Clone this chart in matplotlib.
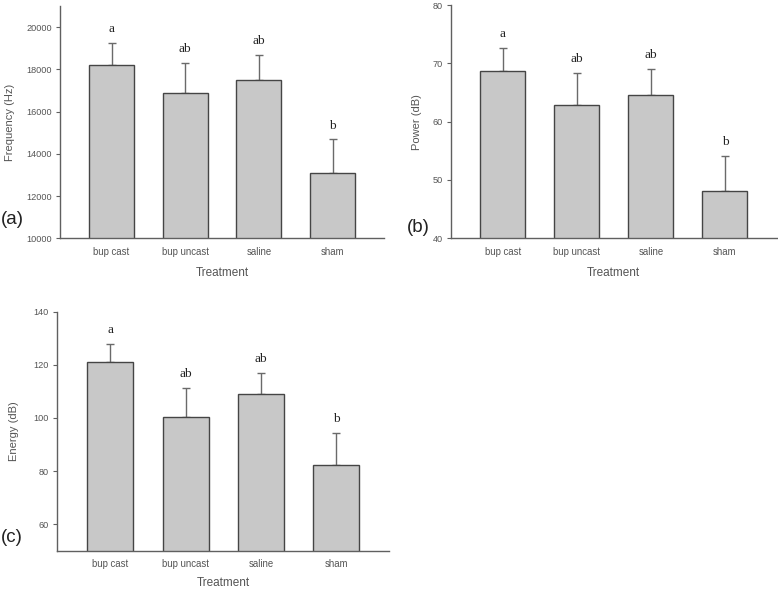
import matplotlib
matplotlib.use('Agg')
import matplotlib.pyplot as plt

treatments = ['bup cast', 'bup uncast', 'saline', 'sham']
letters = ['a', 'ab', 'ab', 'b']

freq_mean = [18200, 16880, 17500, 13070]
freq_err = [1050, 1420, 1200, 1610]

power_mean = [68.7, 62.9, 64.6, 48.1]
power_err = [3.9, 5.4, 4.5, 6.0]

energy_mean = [120.9, 100.5, 109.1, 82.1]
energy_err = [6.9, 10.8, 8.0, 12.4]

plt.rcParams['font.family'] = ['Liberation Sans', 'DejaVu Sans']
txt = '#555555'
axc = '#606060'

fig = plt.figure(figsize=(7.78, 5.90), dpi=100)


def panel(rect, means, errs, ylim, yticks, ylabel, tag, ylab_x, tag_xy, xpad=7.5):
    ax = fig.add_axes(rect)
    x = list(range(len(treatments)))
    ax.bar(x, means, width=0.61, color='#c8c8c8', edgecolor='#454545', linewidth=1.0, zorder=2)
    ax.errorbar(x, means, yerr=[[0] * len(errs), errs], fmt='none',
                ecolor='#6a6a6a', elinewidth=1.0, capsize=3, capthick=1.0, zorder=1)
    for xi, m, e, l in zip(x, means, errs, letters):
        ax.annotate(l, (xi, m + e), xytext=(0, 10), textcoords='offset points',
                    ha='center', va='center', fontsize=9.5,
                    family='Liberation Serif', color='#222222')
    ax.set_xlim(-0.7, 3.7)
    ax.set_ylim(*ylim)
    ax.set_yticks(yticks)
    ax.set_xticks(x)
    ax.set_xticklabels(treatments)
    for s in ['top', 'right']:
        ax.spines[s].set_visible(False)
    for s in ['left', 'bottom']:
        ax.spines[s].set_color(axc)
        ax.spines[s].set_linewidth(1.0)
    ax.tick_params(axis='y', direction='out', length=3, width=0.8, color=axc,
                   labelsize=6.6, labelcolor=txt, pad=3)
    ax.tick_params(axis='x', length=0, labelsize=6.9, labelcolor=txt, pad=6)
    ax.set_ylabel(ylabel, fontsize=8, color=txt)
    ax.yaxis.set_label_coords(ylab_x, 0.5)
    ax.set_xlabel('Treatment', fontsize=8.5, color=txt, labelpad=xpad)
    fig.text(tag_xy[0], tag_xy[1], tag, fontsize=13.5, color='#222222',
             ha='center', va='center')
    return ax


panel([0.0771, 0.5961, 0.4168, 0.3937], freq_mean, freq_err, (10000, 21000),
      range(10000, 20001, 2000), 'Frequency (Hz)', '(a)', -45 / 324, (12 / 778, 1 - 220 / 590))
panel([0.5797, 0.5961, 0.4186, 0.3954], power_mean, power_err, (40, 80),
      range(40, 81, 10), 'Power (dB)', '(b)', -29 / 326, (418 / 778, 1 - 227 / 590))
panel([0.0737, 0.0666, 0.4264, 0.4051], energy_mean, energy_err, (50, 140),
      range(60, 141, 20), 'Energy (dB)', '(c)', -38 / 332, (12 / 778, 1 - 538 / 590), xpad=5.5)

fig.savefig('out.png', dpi=100)
